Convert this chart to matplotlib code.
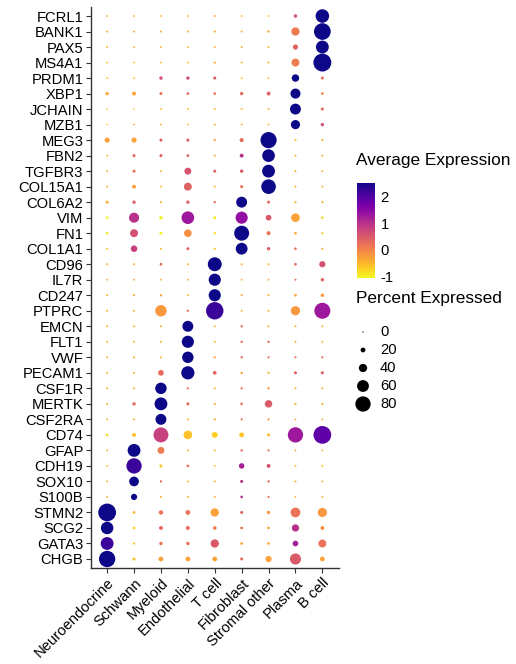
import numpy as np
import matplotlib
matplotlib.use("Agg")
import matplotlib.pyplot as plt
from matplotlib.colors import Normalize
from matplotlib.cm import ScalarMappable

plt.rcParams['font.family'] = ['Liberation Sans', 'DejaVu Sans']
plt.rcParams['axes.unicode_minus'] = False

genes = ["FCRL1", "BANK1", "PAX5", "MS4A1", "PRDM1", "XBP1", "JCHAIN", "MZB1",
         "MEG3", "FBN2", "TGFBR3", "COL15A1", "COL6A2", "VIM", "FN1", "COL1A1",
         "CD96", "IL7R", "CD247", "PTPRC", "EMCN", "FLT1", "VWF", "PECAM1",
         "CSF1R", "MERTK", "CSF2RA", "CD74", "GFAP", "CDH19", "SOX10", "S100B",
         "STMN2", "SCG2", "GATA3", "CHGB"]
cell_types = ["Neuroendocrine", "Schwann", "Myeloid", "Endothelial", "T cell",
              "Fibroblast", "Stromal other", "Plasma", "B cell"]

# percent expressed, one row per gene (columns follow cell_types)
pct_expressed = [
    [3, 3, 3, 3, 4, 3, 3, 12, 70],
    [4, 4, 4, 4, 5, 4, 6, 40, 88],
    [3, 3, 3, 3, 4, 4, 4, 22, 66],
    [3, 3, 3, 3, 5, 4, 4, 38, 95],
    [3, 3, 12, 12, 10, 3, 3, 35, 10],
    [12, 15, 10, 8, 8, 12, 15, 50, 8],
    [2, 2, 3, 3, 4, 3, 3, 55, 10],
    [2, 3, 3, 3, 4, 3, 3, 45, 12],
    [22, 22, 10, 10, 5, 16, 85, 5, 5],
    [3, 10, 10, 8, 4, 15, 65, 4, 4],
    [3, 10, 3, 32, 10, 12, 66, 4, 4],
    [4, 15, 3, 38, 4, 10, 76, 4, 4],
    [10, 12, 5, 12, 6, 55, 10, 5, 5],
    [8, 50, 12, 65, 10, 62, 25, 42, 8],
    [8, 38, 10, 36, 6, 78, 16, 8, 5],
    [4, 30, 4, 10, 5, 60, 12, 8, 5],
    [4, 4, 8, 4, 72, 4, 4, 8, 28],
    [3, 3, 3, 3, 62, 3, 3, 4, 12],
    [4, 5, 6, 4, 62, 5, 5, 8, 12],
    [4, 4, 58, 6, 92, 4, 4, 45, 84],
    [4, 4, 4, 55, 4, 6, 4, 4, 4],
    [4, 4, 4, 62, 4, 6, 6, 4, 4],
    [4, 4, 4, 58, 5, 6, 5, 5, 5],
    [4, 4, 25, 68, 14, 6, 5, 10, 10],
    [4, 4, 58, 5, 4, 5, 6, 4, 4],
    [4, 12, 66, 10, 5, 8, 35, 5, 5],
    [3, 4, 55, 4, 5, 5, 5, 3, 3],
    [8, 15, 78, 42, 26, 20, 10, 80, 94],
    [3, 66, 32, 4, 4, 6, 5, 3, 3],
    [3, 80, 10, 8, 3, 24, 15, 4, 4],
    [3, 48, 6, 4, 4, 10, 6, 4, 3],
    [3, 28, 4, 4, 4, 8, 5, 3, 3],
    [94, 8, 18, 20, 40, 10, 12, 48, 45],
    [64, 8, 15, 15, 14, 8, 8, 34, 15],
    [66, 5, 12, 12, 40, 8, 8, 25, 38],
    [86, 10, 20, 20, 20, 10, 28, 56, 20],
]

# scaled average expression
avg_expression = [
    [-0.4, -0.4, -0.5, -0.4, -0.4, -0.4, -0.5, 0.6, 2.5],
    [-0.4, -0.4, -0.4, -0.4, -0.4, -0.4, -0.3, 0.1, 2.5],
    [-0.4, -0.4, -0.4, -0.4, -0.4, -0.4, -0.4, 0.4, 2.5],
    [-0.5, -0.5, -0.5, -0.5, -0.4, -0.4, -0.4, 0.1, 2.5],
    [-0.6, -0.6, 0.6, 0.6, 0.5, -0.5, -0.5, 2.5, 0.2],
    [-0.4, -0.3, 0.2, 0.3, 0.2, 0.3, 0.4, 2.5, 0.0],
    [-0.6, -0.6, -0.5, -0.5, -0.4, -0.4, -0.4, 2.5, 0.3],
    [-0.6, -0.4, -0.4, -0.4, -0.4, -0.4, -0.4, 2.5, 0.6],
    [-0.3, -0.3, 0.4, 0.4, -0.2, 0.3, 2.5, -0.5, -0.4],
    [-0.4, 0.3, 0.4, 0.5, -0.3, 1.0, 2.5, -0.4, -0.4],
    [-0.4, 0.2, -0.4, 0.6, 0.4, 0.5, 2.5, -0.4, -0.4],
    [-0.4, -0.3, -0.4, 0.4, -0.4, 0.2, 2.5, -0.4, -0.4],
    [-0.4, 0.4, -0.4, 0.4, 0.2, 2.5, 0.3, -0.4, -0.4],
    [-1.0, 1.0, -1.0, 1.3, -0.9, 1.4, 0.5, -0.3, -0.8],
    [-0.9, 0.6, -1.0, -0.1, -0.8, 2.5, 0.2, -0.4, -0.6],
    [-0.6, 0.8, -0.5, 0.3, -0.6, 2.5, 0.5, 0.2, -0.4],
    [-0.4, -0.4, 0.3, -0.4, 2.5, -0.4, -0.4, 0.3, 0.6],
    [-0.4, -0.4, -0.4, -0.4, 2.5, -0.4, -0.4, 0.2, 0.4],
    [-0.4, -0.4, -0.3, -0.4, 2.5, -0.4, -0.4, -0.3, -0.2],
    [-0.4, -0.4, -0.2, 0.2, 2.2, -0.4, -0.4, -0.2, 1.3],
    [-0.4, -0.4, -0.4, 2.5, -0.4, 0.3, -0.4, -0.4, -0.4],
    [-0.4, -0.4, -0.4, 2.5, -0.4, 0.3, 0.3, -0.4, -0.4],
    [-0.4, -0.4, -0.4, 2.5, -0.3, 0.3, 0.2, 0.2, 0.2],
    [-0.4, -0.4, 0.3, 2.5, 0.3, -0.3, -0.4, 0.4, 0.4],
    [-0.4, -0.4, 2.5, 0.3, -0.4, 0.3, -0.2, -0.4, -0.4],
    [-0.4, 0.3, 2.5, 0.3, -0.4, 0.2, 0.5, -0.4, -0.4],
    [-0.4, -0.4, 2.5, -0.4, -0.4, 0.2, -0.2, -0.4, -0.4],
    [-0.8, -0.6, 0.8, -0.6, -0.7, -0.6, -0.5, 1.3, 1.9],
    [-0.4, 2.5, 0.1, -0.4, -0.4, 0.3, 0.2, -0.4, -0.4],
    [-0.5, 2.2, -0.6, 0.2, -0.5, 1.2, 0.6, -0.6, -0.6],
    [-0.4, 2.5, 0.3, -0.4, -0.4, 1.0, 0.3, -0.4, -0.4],
    [-0.4, 2.5, -0.4, -0.4, -0.4, 1.0, 0.2, -0.4, -0.4],
    [2.5, -0.5, 0.2, 0.2, -0.3, 0.4, -0.2, 0.2, -0.2],
    [2.5, -0.8, 0.3, 0.3, 0.0, 0.3, -0.3, 1.0, -0.1],
    [2.2, -0.6, 0.2, 0.2, 0.5, -0.3, -0.4, 1.2, 0.2],
    [2.5, -0.6, -0.3, -0.3, -0.3, 0.3, -0.3, 0.5, -0.3],
]

cbar_ticks = [-1, 0, 1, 2]
size_legend = [0, 20, 40, 60, 80]

W, H = 516, 664
DPI = 100


def dot_size(p):
    # radius grows with percent; diameter in pixels -> points^2
    d_px = 1.3 + 0.175 * np.asarray(p, dtype=float)
    return (d_px * 72.0 / DPI) ** 2


fig = plt.figure(figsize=(W / DPI, H / DPI), dpi=DPI)
ax = fig.add_axes([91 / W, 1 - 568.3 / H, 247.5 / W, 561.6 / H])

pct = np.array(pct_expressed)
expr = np.array(avg_expression)
n_genes, n_cells = pct.shape
xx, yy = np.meshgrid(np.arange(n_cells), np.arange(n_genes))

cmap = plt.get_cmap('plasma_r')
norm = Normalize(vmin=-1.05, vmax=2.5)
ax.scatter(xx.ravel(), yy.ravel(), s=dot_size(pct.ravel()), c=expr.ravel(),
           cmap=cmap, norm=norm, edgecolors='none')

ax.set_xlim(-0.6, n_cells - 0.4)
ax.set_ylim(n_genes - 0.4, -0.6)
ax.set_xticks(range(n_cells))
ax.set_xticklabels(cell_types, rotation=45, ha='right', va='top',
                   rotation_mode='anchor', fontsize=10.6)
ax.set_yticks(range(n_genes))
ax.set_yticklabels(genes, fontsize=10.6)
ax.tick_params(length=3.5, width=0.8, color='#333333', pad=2)
for side in ['top', 'right']:
    ax.spines[side].set_visible(False)
for side in ['left', 'bottom']:
    ax.spines[side].set_color('#333333')
    ax.spines[side].set_linewidth(1.0)


def fx(x):
    return x / W


def fy(y):
    return 1 - y / H


# colour legend
fig.text(fx(356), fy(160), "Average Expression", fontsize=12.4, va='center', ha='left')
cax = fig.add_axes([fx(357), fy(278), 18 / W, 95 / H])
cb = fig.colorbar(ScalarMappable(norm=norm, cmap=cmap), cax=cax, ticks=cbar_ticks)
cb.outline.set_visible(False)
cb.ax.tick_params(length=0, labelsize=10.6, pad=4)

# size legend
fig.text(fx(356), fy(298), "Percent Expressed", fontsize=12.4, va='center', ha='left')
lax = fig.add_axes([0, 0, 1, 1], facecolor='none')
lax.set_xlim(0, W)
lax.set_ylim(H, 0)
lax.axis('off')
leg_y = [332 + 18 * i for i in range(len(size_legend))]
lax.scatter([363] * len(size_legend), leg_y, s=dot_size(size_legend), c='black',
            edgecolors='none')
for v, y in zip(size_legend, leg_y):
    lax.text(380, y, str(v), fontsize=10.6, va='center', ha='left')

fig.savefig("out.png", dpi=DPI)
